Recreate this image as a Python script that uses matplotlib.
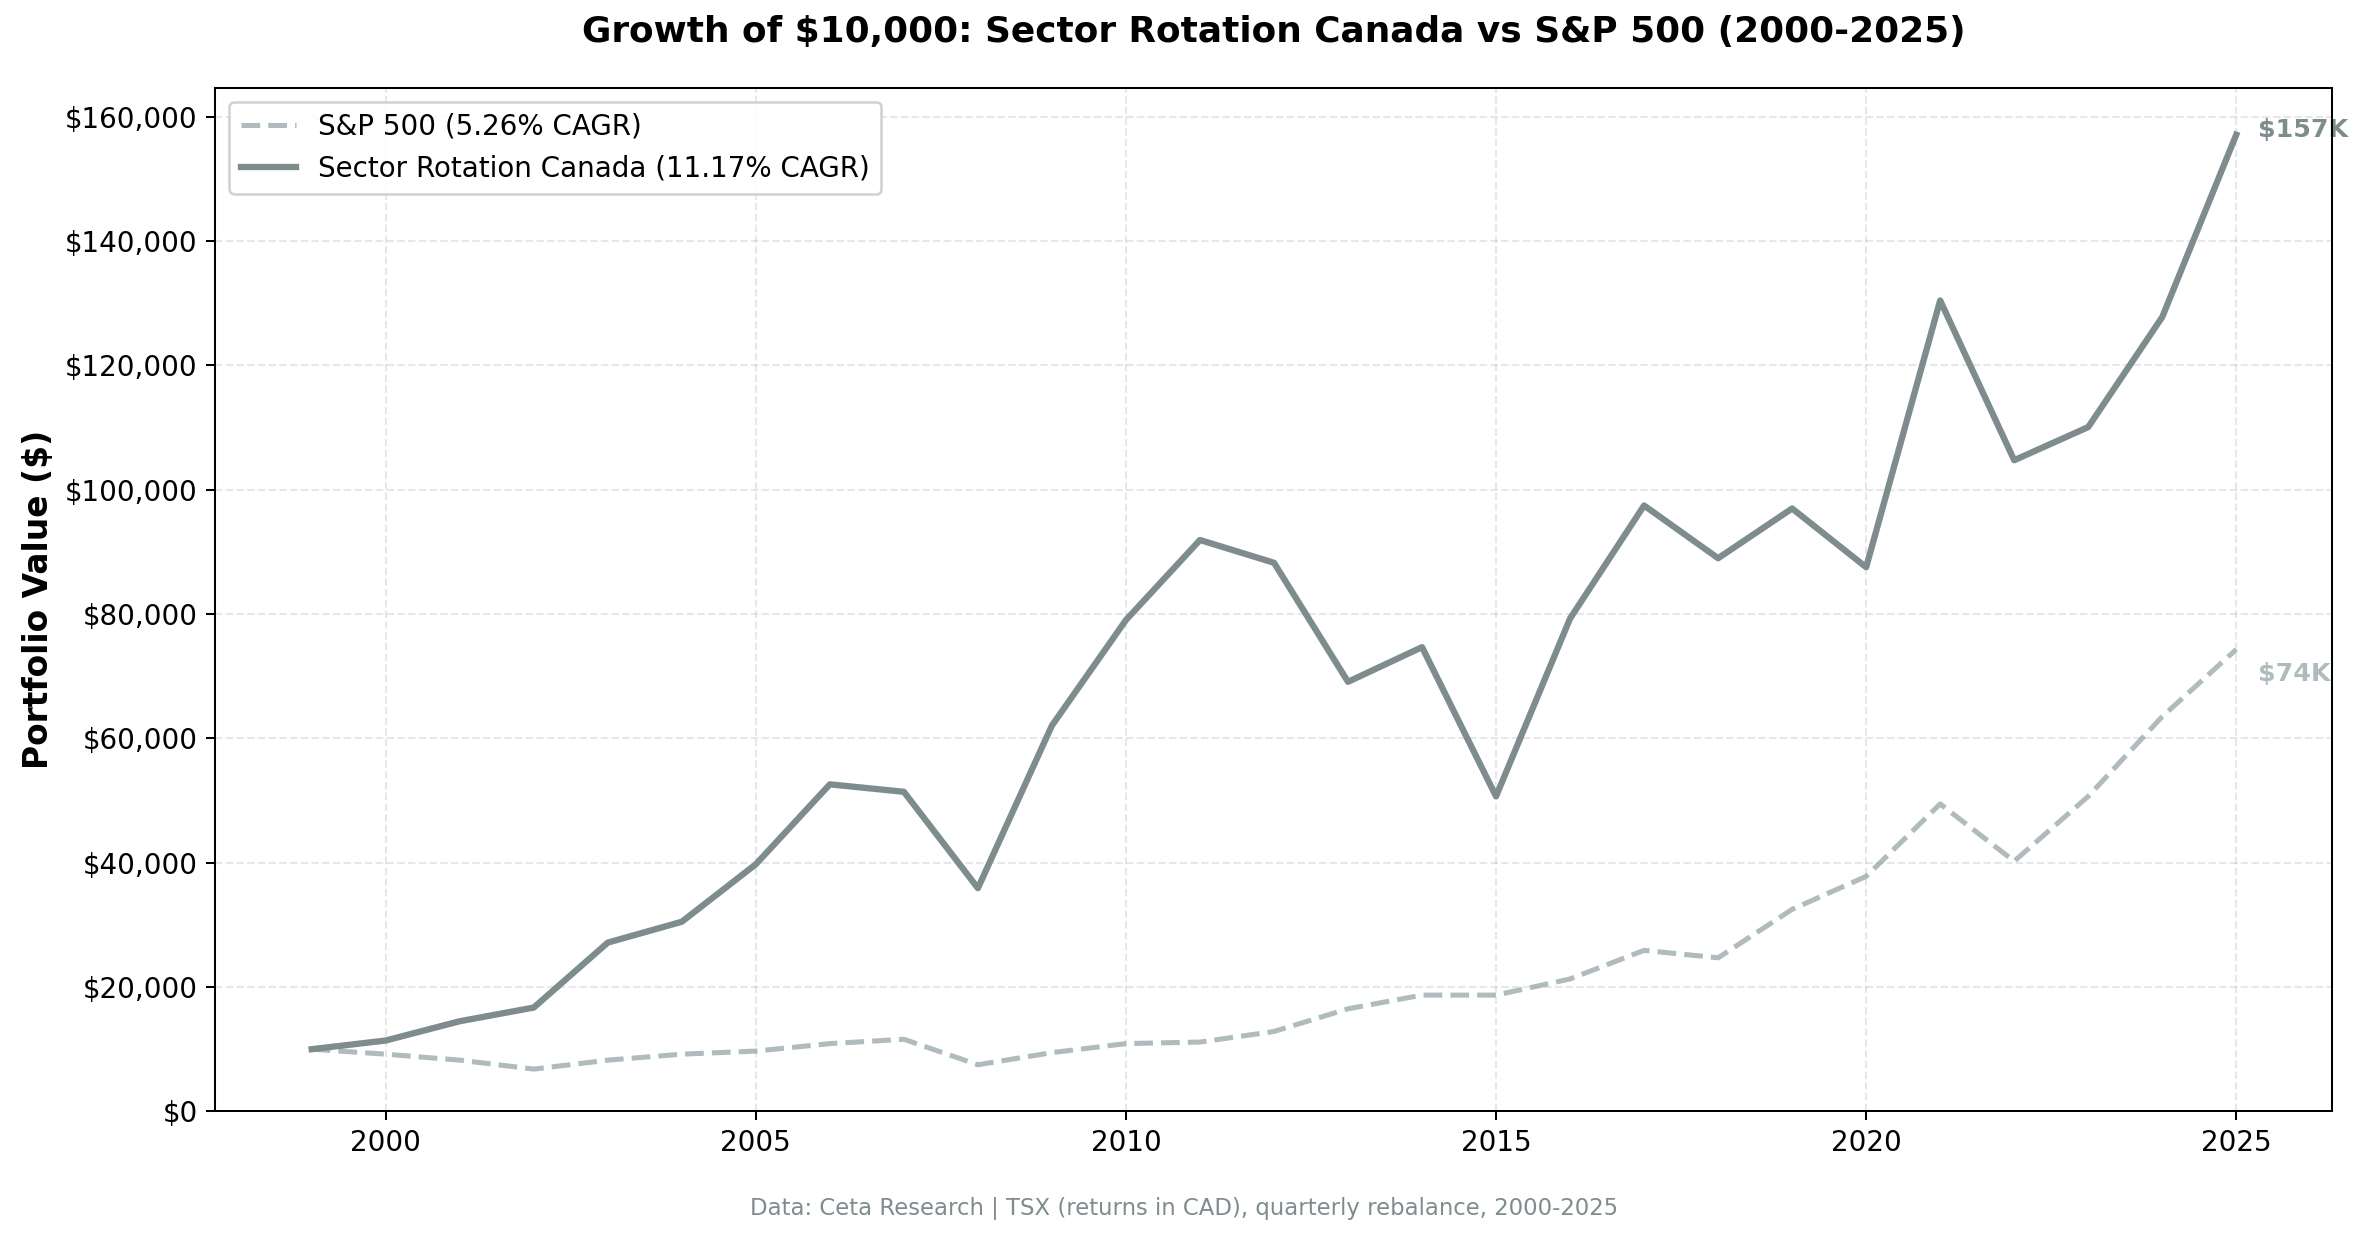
import matplotlib
matplotlib.use("Agg")
import matplotlib.pyplot as plt
from matplotlib.ticker import FuncFormatter

years = list(range(1999, 2026))
canada = [10000, 11400, 14500, 16700, 27150, 30500, 39750, 52600, 51400, 35900,
          62060, 79030, 91900, 88240, 69090, 74670, 50670, 79270, 97450, 88970,
          96970, 87520, 130420, 104730, 110060, 127760, 157090]
sp500 = [10000, 9200, 8240, 6800, 8240, 9200, 9700, 10900, 11600, 7500,
         9450, 10900, 11150, 12850, 16500, 18700, 18700, 21300, 25900, 24700,
         32500, 37800, 49450, 40240, 50670, 63500, 74300]
sp_label = "S&P 500 (5.26% CAGR)"
canada_label = "Sector Rotation Canada (11.17% CAGR)"

c_canada = "#7f8c8d"
c_sp = "#95a5a6"

DPI = 182
fig, ax = plt.subplots(figsize=(2368 / DPI, 1239 / DPI), dpi=DPI)
fig.subplots_adjust(left=0.091, right=0.985, top=0.929, bottom=0.103)

ax.plot(years, sp500, color=c_sp, alpha=0.75, lw=2, ls="--", label=sp_label)
ax.plot(years, canada, color=c_canada, lw=2.5, label=canada_label)

ax.text(years[-1] + 0.3, canada[-1] + 800, f"${canada[-1] / 1000:.0f}K", color=c_canada,
        fontsize=10, fontweight="bold", va="center", ha="left", zorder=1)
ax.text(years[-1] + 0.3, sp500[-1] - 4000, f"${sp500[-1] / 1000:.0f}K", color=c_sp, alpha=0.75,
        fontsize=10, fontweight="bold", va="center", ha="left", zorder=1)

ax.set_ylim(bottom=0)
ax.yaxis.set_major_formatter(FuncFormatter(lambda v, p: f"${v:,.0f}"))
ax.tick_params(labelsize=11)
ax.set_ylabel("Portfolio Value ($)", fontsize=13, fontweight="bold")
ax.set_title("Growth of $10,000: Sector Rotation Canada vs S&P 500 (2000-2025)",
             fontsize=14.2, fontweight="bold", pad=18)
ax.grid(True, ls="--", alpha=0.3)
ax.legend(loc="upper left", fontsize=11, framealpha=0.9)

fig.text(0.5, 0.019, "Data: Ceta Research | TSX (returns in CAD), quarterly rebalance, 2000-2025",
         ha="center", fontsize=9, color=c_canada)

fig.savefig("out.png", dpi=DPI)
